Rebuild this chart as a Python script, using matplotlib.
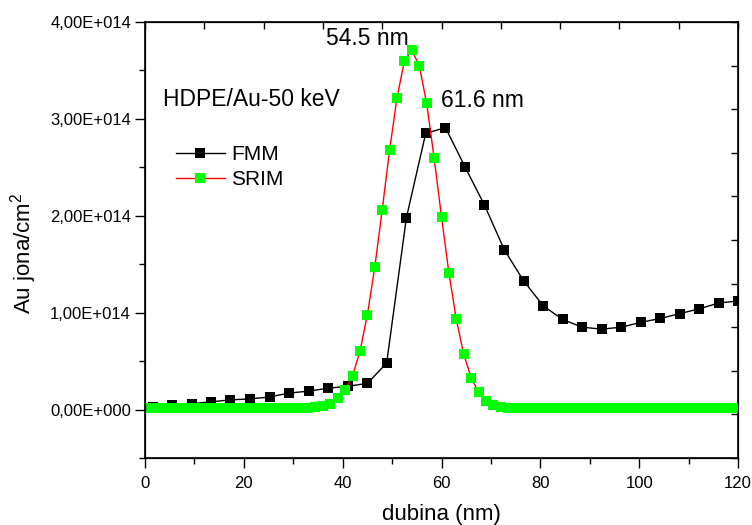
import numpy as np
import matplotlib
matplotlib.use('Agg')
import matplotlib.pyplot as plt
from matplotlib.ticker import MultipleLocator, FuncFormatter

plt.rcParams['font.family'] = ['Liberation Sans', 'DejaVu Sans']
plt.rcParams['mathtext.fontset'] = 'custom'
plt.rcParams['mathtext.rm'] = 'Liberation Sans'
plt.rcParams['mathtext.it'] = 'Liberation Sans:italic'

# FMM profile (depth nm, Au ions/cm2 in units of 1e14)
fmm_x = [1.6, 5.5, 9.5, 13.4, 17.3, 21.3, 25.2, 29.1, 33.1, 37.0, 41.0, 45.0,
         48.9, 52.9, 56.8, 60.8, 64.8, 68.7, 72.7, 76.6, 80.6, 84.5, 88.5,
         92.4, 96.4, 100.3, 104.3, 108.2, 112.2, 116.1, 120.0]
fmm_y = [0.03, 0.05, 0.06, 0.08, 0.10, 0.11, 0.13, 0.17, 0.19, 0.22, 0.24, 0.27,
         0.48, 1.98, 2.85, 2.91, 2.50, 2.11, 1.65, 1.33, 1.07, 0.93, 0.85,
         0.83, 0.85, 0.90, 0.94, 0.99, 1.04, 1.10, 1.12]

# SRIM profile, depth grid every 1.5 nm from 0 to 120
srim_x = np.arange(0, 120.1, 1.5)
srim_y = [0.015, 0.015, 0.015, 0.015, 0.015, 0.015, 0.015, 0.015, 0.015, 0.015,  # 0-13.5
          0.015, 0.015, 0.015, 0.015, 0.015, 0.015, 0.015, 0.015, 0.015, 0.015,  # 15-28.5
          0.018, 0.02, 0.02, 0.03, 0.04, 0.06, 0.12, 0.20, 0.35, 0.60,            # 30-43.5
          0.98, 1.47, 2.06, 2.68, 3.22, 3.60, 3.71, 3.55, 3.16, 2.60,             # 45-58.5
          1.99, 1.41, 0.93, 0.57, 0.33, 0.18, 0.09, 0.05, 0.03, 0.02,             # 60-73.5
          0.018, 0.015, 0.015, 0.015, 0.015, 0.015, 0.015, 0.015, 0.015, 0.015,  # 75-88.5
          0.015, 0.015, 0.015, 0.015, 0.015, 0.015, 0.015, 0.015, 0.015, 0.015,  # 90-103.5
          0.015, 0.015, 0.015, 0.015, 0.015, 0.015, 0.015, 0.015, 0.015, 0.015,  # 105-118.5
          0.015]
scale = 1e14

fig = plt.figure(figsize=(7.52, 5.25), dpi=100)
ax = fig.add_axes([145/752, 1-458/525, (738-145)/752, (458-22)/525])

ax.plot(fmm_x, np.array(fmm_y)*scale, color='black', lw=1.0, marker='s',
        ms=6.5, mfc='black', mec='black', mew=0, label='FMM', zorder=3)
ax.plot(srim_x, np.array(srim_y)*scale, color='red', lw=1.0, marker='s',
        ms=6.5, mfc='#00ff00', mec='#00ff00', mew=0, label='SRIM', zorder=4)

ax.set_xlim(0, 120)
ax.set_ylim(-0.5e14, 4e14)
ax.xaxis.set_major_locator(MultipleLocator(20))
ax.xaxis.set_minor_locator(MultipleLocator(10))
ax.yaxis.set_major_locator(MultipleLocator(1e14))
ax.yaxis.set_minor_locator(MultipleLocator(0.5e14))

def fmt(v, pos):
    if v < 0:
        return ''
    if v == 0:
        return '0,00E+000'
    e = int(np.floor(np.log10(v)))
    m = v / 10**e
    return ('%.2f' % m).replace('.', ',') + 'E+%03d' % e

ax.yaxis.set_major_formatter(FuncFormatter(fmt))
ax.tick_params(axis='both', which='major', direction='out', length=7, width=1,
               labelsize=12, pad=3)
ax.tick_params(axis='x', which='major', pad=6)
ax.tick_params(axis='both', which='minor', direction='out', length=4, width=1)
for s in ax.spines.values():
    s.set_linewidth(1.2)

ax.set_xlabel('dubina (nm)', fontsize=16, labelpad=9)
ax.set_ylabel('Au jona/cm$^{2}$', fontsize=16)
ax.yaxis.set_label_coords(-0.178, 0.47)

# independent right / top axes with inward ticks
axr = ax.twinx()
axr.set_ylim(0, 10)
axr.yaxis.set_major_locator(MultipleLocator(1))
axr.tick_params(axis='y', direction='in', length=5, width=1, labelright=False)
axt = ax.twiny()
axt.set_xlim(0, 10)
axt.xaxis.set_major_locator(MultipleLocator(1))
axt.tick_params(axis='x', direction='in', length=5, width=1, labeltop=False)

ax.text(3.6, 3.2e14, 'HDPE/Au-50 keV', fontsize=16.5, va='center', ha='left')
ax.text(44.9, 3.83e14, '54.5 nm', fontsize=16.5, va='center', ha='center')
ax.text(68.2, 3.19e14, '61.6 nm', fontsize=16.5, va='center', ha='center')

leg = ax.legend(loc='upper left', bbox_to_anchor=((176-145)/593, (458-145)/436),
                frameon=False, fontsize=15, handlelength=2.35, handletextpad=0.3,
                labelspacing=0.3, borderpad=0, borderaxespad=0)

fig.savefig('out.png', dpi=100)
